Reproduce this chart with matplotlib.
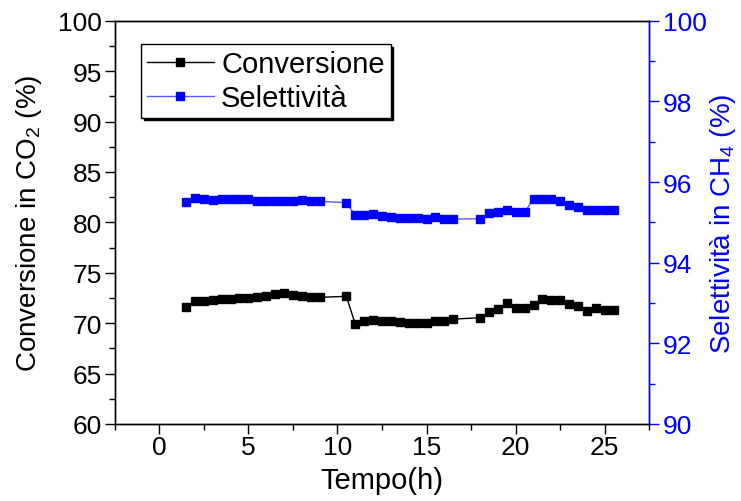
import matplotlib
matplotlib.use("Agg")
import matplotlib.pyplot as plt
from matplotlib.ticker import MultipleLocator

plt.rcParams['font.family'] = ['Liberation Sans', 'DejaVu Sans']
plt.rcParams['mathtext.default'] = 'regular'

# Time on stream (h)
tempo = [1.5, 2.0, 2.5, 3.0, 3.5, 4.0, 4.5, 5.0, 5.5, 6.0, 6.5, 7.0, 7.5, 8.0, 8.5, 9.0,
         10.5, 11.0, 11.5, 12.0, 12.5, 13.0, 13.5, 14.0, 14.5, 15.0, 15.5, 16.0, 16.5,
         18.0, 18.5, 19.0, 19.5, 20.0, 20.5, 21.0, 21.5, 22.0, 22.5, 23.0, 23.5, 24.0,
         24.5, 25.0, 25.5]

# CO2 conversion (%)
conversione = [71.6, 72.2, 72.2, 72.3, 72.4, 72.4, 72.5, 72.5, 72.56, 72.66, 72.9, 72.96,
               72.8, 72.66, 72.6, 72.56,
               72.66, 69.9, 70.2, 70.3, 70.2, 70.2, 70.14, 70.04, 70.04, 70.0, 70.2, 70.2, 70.4,
               70.54, 71.07, 71.4, 72.0, 71.47, 71.47, 71.77, 72.36, 72.3, 72.26, 71.9, 71.66,
               71.2, 71.47, 71.33, 71.33]

# CH4 selectivity (%)
selettivita = [95.50, 95.60, 95.57, 95.55, 95.59, 95.58, 95.59, 95.57, 95.52, 95.53, 95.54,
               95.52, 95.52, 95.55, 95.52, 95.52,
               95.49, 95.17, 95.18, 95.20, 95.16, 95.13, 95.12, 95.10, 95.10, 95.08, 95.14,
               95.08, 95.08,
               95.09, 95.23, 95.26, 95.30, 95.26, 95.25, 95.58, 95.58, 95.57, 95.52, 95.42,
               95.37, 95.31, 95.31, 95.31, 95.31]

fig = plt.figure(figsize=(7.41, 5.02), dpi=100)
ax = fig.add_axes([0.1548, 0.1534, 0.7215, 0.8034])
ax2 = ax.twinx()

l1, = ax.plot(tempo, conversione, color='black', lw=1.0, marker='s', ms=6.2,
              mfc='black', mec='black', label='Conversione')
l2, = ax2.plot(tempo, selettivita, color='#5a5aff', lw=1.0, marker='s', ms=6.2,
               mfc='#0000ff', mec='#0000ff', label='Selettività')

ax.set_xlim(-2.5, 27.5)
ax.set_ylim(60, 100)
ax2.set_ylim(90, 100)

ax.xaxis.set_major_locator(MultipleLocator(5))
ax.xaxis.set_minor_locator(MultipleLocator(2.5))
ax.yaxis.set_major_locator(MultipleLocator(5))
ax.yaxis.set_minor_locator(MultipleLocator(2.5))
ax2.yaxis.set_major_locator(MultipleLocator(2))
ax2.yaxis.set_minor_locator(MultipleLocator(1))

ax.tick_params(which='both', direction='out', labelsize=19, width=1.0, top=False, right=False)
ax.tick_params(which='major', length=7)
ax.tick_params(which='minor', length=4)
ax.tick_params(axis='y', which='both', pad=2)
ax.tick_params(axis='x', which='both', pad=1)
ax2.tick_params(which='both', direction='out', labelsize=19, width=1.0, colors='#0000ff', pad=3)
ax2.tick_params(which='major', length=7)
ax2.tick_params(which='minor', length=4)

for s in ax.spines.values():
    s.set_linewidth(1.0)
for s in ax2.spines.values():
    s.set_linewidth(1.0)
ax2.spines['right'].set_color('#0000ff')

ax.set_xlabel('Tempo(h)', fontsize=21, labelpad=5)
ax.set_ylabel('Conversione in CO$_2$ (%)', fontsize=20, labelpad=10)
ax2.set_ylabel('Selettività in CH$_4$ (%)', fontsize=20, color='#0000ff', labelpad=1)

leg = ax2.legend(handles=[l1, l2], loc='upper left', bbox_to_anchor=(0.049, 0.942),
                 borderaxespad=0, fontsize=21, frameon=True, fancybox=False,
                 shadow={'color': 'black', 'alpha': 1.0}, handlelength=2.3,
                 handletextpad=0.25, borderpad=0.2, labelspacing=0.2, framealpha=1)
leg.get_frame().set_edgecolor('black')
leg.get_frame().set_linewidth(1.0)

fig.savefig('out.png', dpi=100)
